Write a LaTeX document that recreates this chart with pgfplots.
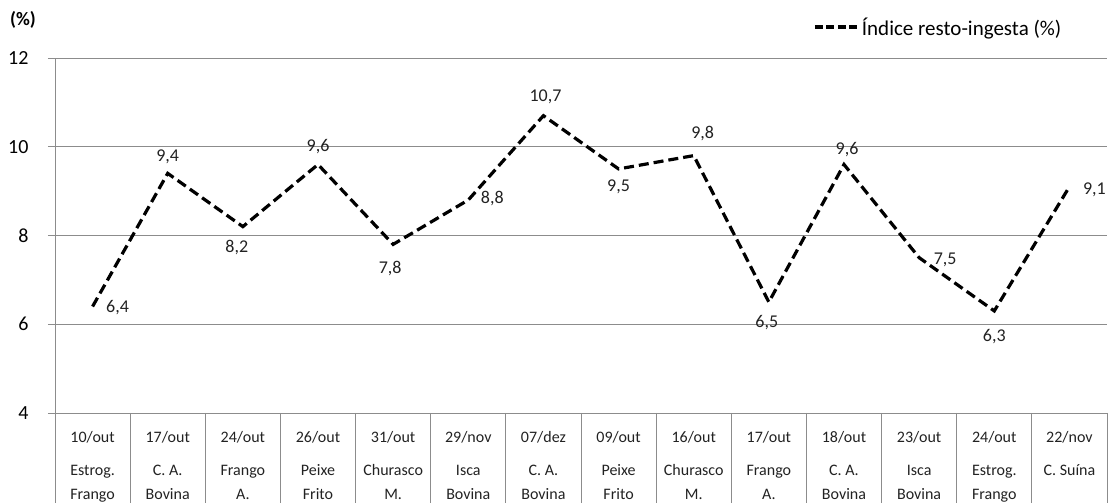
\documentclass[border=0pt]{standalone}
\usepackage{fontspec}
\setmainfont{Carlito}
\usepackage{pgfplots}
\pgfplotsset{compat=1.18}
\usepackage{pgfplotstable}

\definecolor{axisgray}{RGB}{140,140,140}
\definecolor{labeltext}{RGB}{34,34,34}

\pgfplotsset{
  long dash legend/.style={
    legend image code/.code={\draw[##1, dash pattern=on 8pt off 3.5pt] (0pt,0pt) -- (44pt,0pt);}},
}

% index, value, label offset (pt)
\pgfplotstableread{
x  y     dx   dy
0  6.4   25   -1
1  9.4    0   17
2  8.2   -6  -21
3  9.6    0   18
4  7.8   -3  -24
5  8.8   24    1
6  10.7   2   19
7  9.5    0  -18
8  9.8    9   22
9  6.5   -2  -21
10 9.6    3   15
11 7.5   26   -2
12 6.3    0  -26
13 9.1   25   -3
}\restoingesta

\begin{document}
\begin{tikzpicture}
\begin{axis}[
  scale only axis,
  width=1052pt, height=355pt,
  xmin=-0.5, xmax=13.5,
  ymin=4, ymax=12,
  ytick={4,6,8,10,12},
  xtick={0,...,13},
  xticklabels={
    {10/out\\[9pt]Estrog.\\Frango},
    {17/out\\[9pt]C. A.\\Bovina},
    {24/out\\[9pt]Frango\\A.},
    {26/out\\[9pt]Peixe\\Frito},
    {31/out\\[9pt]Churasco\\M.},
    {29/nov\\[9pt]Isca\\Bovina},
    {07/dez\\[9pt]C. A.\\Bovina},
    {09/out\\[9pt]Peixe\\Frito},
    {16/out\\[9pt]Churasco\\M.},
    {17/out\\[9pt]Frango\\A.},
    {18/out\\[9pt]C. A.\\Bovina},
    {23/out\\[9pt]Isca\\Bovina},
    {24/out\\[9pt]Estrog.\\Frango},
    {22/nov\\[9pt]C. Suína}},
  axis x line*=bottom,
  axis y line*=left,
  axis line style={axisgray, line width=0.8pt, -},
  ymajorgrids,
  grid style={axisgray, line width=0.8pt},
  tick align=outside,
  major tick length=7pt,
  xtick style={draw=none},
  ytick style={axisgray, line width=0.8pt},
  yticklabel style={font=\fontsize{20}{24}\selectfont, text=black, xshift=-16pt},
  xticklabel style={font=\fontsize{16}{24}\selectfont, align=center,
                    anchor=north, yshift=-8pt, text=labeltext},
  /pgf/number format/assume math mode=true,
  /pgf/number format/use comma,
  clip=false,
  legend style={draw=none, fill=none, at={(1,1)}, anchor=east,
                xshift=-44pt, yshift=31pt,
                font=\fontsize{21}{24}\selectfont,
                inner xsep=0pt, inner ysep=0pt,
                nodes={inner xsep=1.5pt}},
  legend cell align=left,
]
\addplot[black, line width=3.2pt, dash pattern=on 10pt off 5pt, mark=none,
  long dash legend,
  point meta=explicit,
  visualization depends on={\thisrow{dx} \as \dx},
  visualization depends on={\thisrow{dy} \as \dy},
  nodes near coords,
  nodes near coords align={center},
  every node near coord/.append style={anchor=center, xshift=\dx pt, yshift=\dy pt,
     font=\fontsize{18}{20}\selectfont, text=labeltext, solid}]
  table[x=x, y=y, meta=y] {\restoingesta};
\addlegendentry{Índice resto-ingesta (\%)}

% table cell separators below the axis
\pgfplotsinvokeforeach{-0.5,0.5,...,13.5}{
  \draw[axisgray, line width=0.8pt] (axis cs:#1,4) -- ++(0pt,-95pt);
}
\end{axis}
\node[font=\bfseries\fontsize{19}{20}\selectfont]
  at ([xshift=-32pt, yshift=38pt]current axis.north west) {(\%)};
\pgfresetboundingbox
\path[use as bounding box]
  ([xshift=-55pt, yshift=-90pt]current axis.south west)
  rectangle ([xshift=1pt, yshift=58pt]current axis.north east);
\end{tikzpicture}
\end{document}
